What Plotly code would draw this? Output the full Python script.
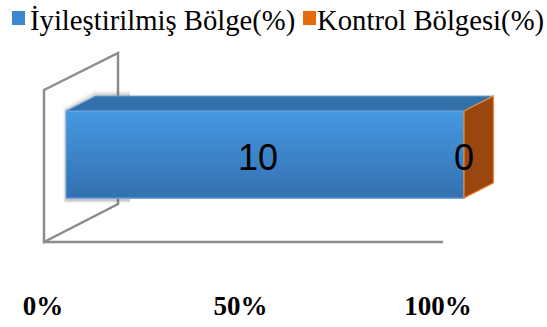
import plotly.graph_objects as go

# ---- data ----
series_names = ["İyileştirilmiş Bölge(%)", "Kontrol Bölgesi(%)"]
series_values = [10, 0]
tick_values = [0, 50, 100]
tick_labels = ["0%", "50%", "100%"]

# ---- styling ----
W, H = 547, 327
SERIF = "Liberation Serif"
SANS = "Liberation Sans"
front_top = ["#4699e2", "#e8761a"]
front_bottom = ["#3470b0", "#b5520a"]
front_mid = ["#3d85cc", "#d06410"]
top_face = ["#3470aa", "#b85a14"]
edge_light = ["#6aa6e0", "#f7882c"]
side_face = "#9a4610"
side_edge = "#f7882c"
wall_color = "#8c8c8c"

# 100% stacked shares
total = sum(series_values)
shares = [v / total * 100 for v in series_values]
cum_start = [sum(shares[:i]) for i in range(len(shares))]
cum_end = [s + w for s, w in zip(cum_start, shares)]

# x: percent units on the bar axis; y: one unit per pixel, bar centred at 0
X0_PX, X100_PX = 66, 464
kx = (X100_PX - X0_PX) / 100
x_range = [-X0_PX / kx, (W - X0_PX) / kx]
BAR_CY = 154.5
y_range = [-(H - BAR_CY), BAR_CY]
BAR_W = 87
DX = 29.5 / kx     # depth offset (percent units)
DY = 15            # depth offset (pixel units)
TOP = BAR_W / 2
BOT = -BAR_W / 2

# tick axis along the front floor edge
T0_PX, T100_PX = 43, 438
kt = (T100_PX - T0_PX) / 100
t_range = [-T0_PX / kt, (W - T0_PX) / kt]


def px(x, y):
    return x / W, 1 - y / H


def paper_path(points):
    p = [px(x, y) for x, y in points]
    return "M " + " L ".join(f"{a:.5f},{b:.5f}" for a, b in p) + " Z"


fig = go.Figure()

for i, name in enumerate(series_names):
    fig.add_trace(go.Bar(
        x=[shares[i]], y=[0], orientation="h", width=BAR_W, name=name,
        marker=dict(color=front_mid[i], line=dict(color=edge_light[i], width=1)),
        showlegend=False, hoverinfo="skip",
    ))
    if shares[i] > 0:
        # vertical shading of the front face
        fig.add_trace(go.Scatter(
            x=[cum_start[i], cum_end[i], cum_end[i], cum_start[i], cum_start[i]],
            y=[BOT, BOT, TOP, TOP, BOT],
            mode="lines", line=dict(color=edge_light[i], width=1),
            fill="toself",
            fillgradient=dict(type="vertical",
                              colorscale=[[0, front_bottom[i]], [1, front_top[i]]]),
            showlegend=False, hoverinfo="skip",
        ))

# invisible carrier for the tick axis
fig.add_trace(go.Scatter(
    x=tick_values, y=[y_range[0] - 10] * len(tick_values), xaxis="x2",
    mode="markers", marker=dict(opacity=0), showlegend=False, hoverinfo="skip",
))

shapes = []

# back wall and floor
wall = [(44, 90), (118, 53), (118, 204), (44, 242)]
shapes.append(dict(type="path", xref="paper", yref="paper", path=paper_path(wall),
                   line=dict(color=wall_color, width=2.5), fillcolor="white", layer="below"))
shapes.append(dict(type="line", xref="paper", yref="paper",
                   x0=px(44, 242)[0], y0=px(44, 242)[1], x1=px(443, 242)[0], y1=px(443, 242)[1],
                   line=dict(color=wall_color, width=2.5), layer="below"))

# soft shadow cast on the wall
for k, op in [(6, 0.04), (4.5, 0.07), (3, 0.10), (1.5, 0.14)]:
    sil = [(66 - k * 0.5, 111 - k * 0.6), (96 - k * 0.3, 96 - k), (130, 96 - k),
           (130, 200 + k * 0.6), (66 - k * 0.5, 200 + k * 0.6)]
    shapes.append(dict(type="path", xref="paper", yref="paper", path=paper_path(sil),
                       line=dict(width=0), fillcolor=f"rgba(90,90,90,{op})", layer="below"))

# 3-D top faces of each stacked segment
for i in range(len(series_names)):
    if shares[i] <= 0:
        continue
    a, b = cum_start[i], cum_end[i]
    shapes.append(dict(
        type="path", xref="x", yref="y",
        path=f"M {a},{TOP} L {a + DX},{TOP + DY} L {b + DX},{TOP + DY} L {b},{TOP} Z",
        fillcolor=top_face[i], line=dict(color=edge_light[i], width=1), layer="above"))

# right-hand end face takes the colour of the last series
e = cum_end[-1]
shapes.append(dict(
    type="path", xref="x", yref="y",
    path=f"M {e},{TOP} L {e + DX},{TOP + DY} L {e + DX},{BOT + DY} L {e},{BOT} Z",
    fillcolor=side_face, line=dict(color=side_edge, width=1.2), layer="above"))

# legend swatches and names
legend_items = [(12, 28, series_names[0], "#3d86d0"),
                (303, 315, series_names[1], "#e46c0a")]
annotations = []
for sq_left, text_left, name, col in legend_items:
    x0, y0 = px(sq_left, 11)
    x1, y1 = px(sq_left + 13, 25)
    shapes.append(dict(type="rect", xref="paper", yref="paper", x0=x0, y0=y1, x1=x1, y1=y0,
                       fillcolor=col, line=dict(width=0)))
    tx, ty = px(text_left, 20)
    annotations.append(dict(xref="paper", yref="paper", x=tx, y=ty, text=name, showarrow=False,
                            xanchor="left", yanchor="middle",
                            font=dict(family=SERIF, size=28.7, color="black")))

# value labels
for i, v in enumerate(series_values):
    mid = (cum_start[i] + cum_end[i]) / 2
    annotations.append(dict(xref="x", yref="y", x=mid, y=0, text=str(v), showarrow=False,
                            xanchor="center", yanchor="middle", yshift=-2.5,
                            xshift=-7 if shares[i] > 0 else 0,
                            font=dict(family=SANS, size=36, color="black")))

fig.update_layout(
    width=W, height=H, margin=dict(l=0, r=0, t=0, b=0),
    paper_bgcolor="white", plot_bgcolor="rgba(0,0,0,0)",
    font=dict(family=SERIF),
    barmode="stack", showlegend=False,
    xaxis=dict(domain=[0, 1], range=x_range, visible=False, fixedrange=True),
    xaxis2=dict(domain=[0, 1], range=t_range, overlaying="x", anchor="free",
                position=1 - 287 / H, side="bottom",
                tickvals=tick_values, ticktext=tick_labels, ticks="", showgrid=False,
                zeroline=False, showline=False,
                tickfont=dict(family=SERIF, size=27, color="black", weight="bold")),
    yaxis=dict(domain=[0, 1], range=y_range, visible=False, fixedrange=True),
    shapes=shapes, annotations=annotations,
)

fig.write_html("out.html")
